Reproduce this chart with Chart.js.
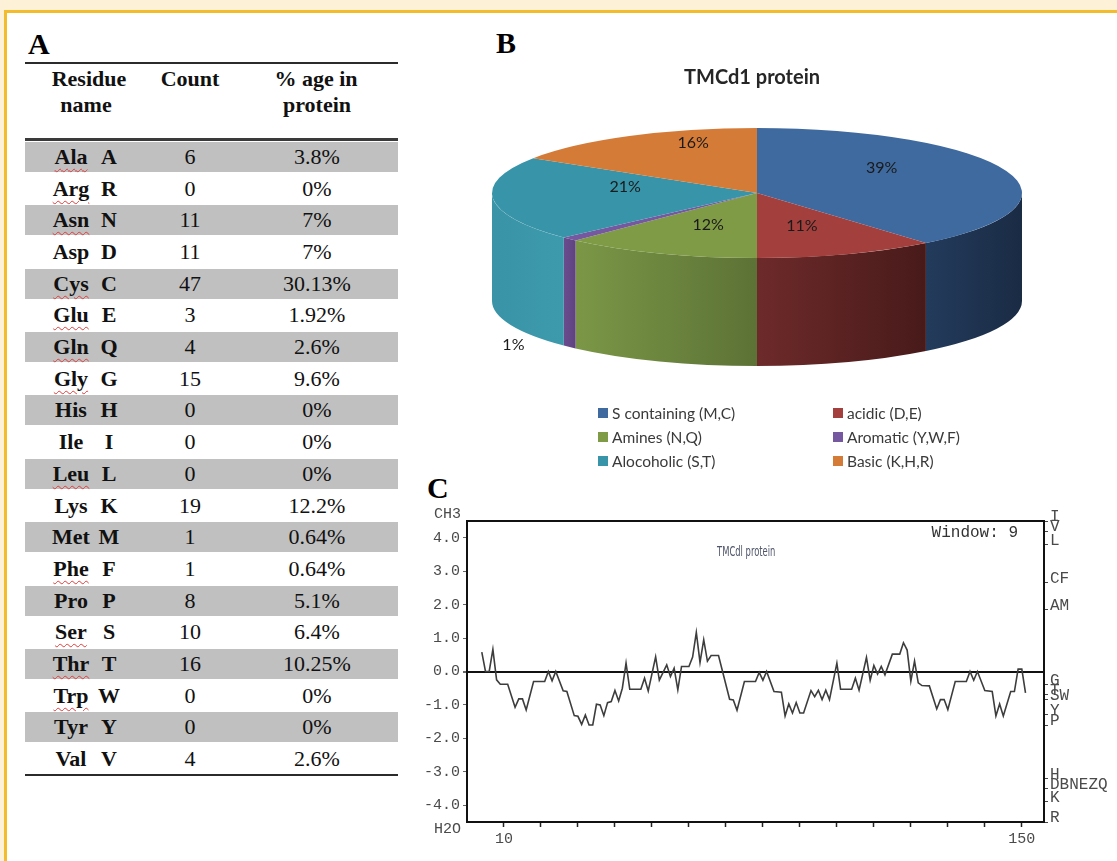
<!DOCTYPE html>
<html><head><meta charset="utf-8">
<script src="https://cdn.jsdelivr.net/npm/chart.js@4.4.1/dist/chart.umd.min.js"></script>
<style>
html,body{margin:0;padding:0;}
body{width:1117px;height:861px;position:relative;background:#fff;overflow:hidden;font-family:"Liberation Serif",serif;}
.band{position:absolute;background:#fdf1d8;}
.yl{position:absolute;background:#f2bc2c;}
.plabel{position:absolute;font:bold 30px "Liberation Serif",serif;color:#000;line-height:30px;}
.cell{position:absolute;text-align:center;font-size:22px;color:#111;white-space:nowrap;}
.hdr{font-weight:bold;}
.nm{font-weight:bold;}
.sq{text-decoration:underline wavy #e23b3b 1px;text-underline-offset:4px;}
.hl{position:absolute;background:#2b2b2b;}
.grow{position:absolute;background:#c0c0c0;}
canvas{position:absolute;}
</style>
</head><body>
<div class="band" style="left:0;top:0;width:1117px;height:10px"></div>
<div class="band" style="left:0;top:0;width:4px;height:861px"></div>
<div class="yl" style="left:4px;top:10px;width:1113px;height:3px"></div>
<div class="yl" style="left:4px;top:10px;width:3px;height:851px"></div>

<div class="plabel" style="left:28px;top:29px">A</div>
<div class="plabel" style="left:496px;top:28px">B</div>
<div class="plabel" style="left:427px;top:473px">C</div>
<div id="tbl"></div>

<canvas id="pie" width="620" height="415" style="left:442px;top:60px"></canvas>
<canvas id="hyd" width="702" height="366" style="left:415px;top:495px"></canvas>

<script>
// ---------- Panel A data ----------
const residueNames = ['Ala','Arg','Asn','Asp','Cys','Glu','Gln','Gly','His','Ile','Leu','Lys','Met','Phe','Pro','Ser','Thr','Trp','Tyr','Val'];
const residueCodes = ['A','R','N','D','C','E','Q','G','H','I','L','K','M','F','P','S','T','W','Y','V'];
const residueCounts = [6,0,11,11,47,3,4,15,0,0,0,19,1,1,8,10,16,0,0,4];
const residuePercent = ['3.8%','0%','7%','7%','30.13%','1.92%','2.6%','9.6%','0%','0%','0%','12.2%','0.64%','0.64%','5.1%','6.4%','10.25%','0%','0%','2.6%'];

// ---------- Panel B data ----------
const pieTitle = 'TMCd1 protein';
const groupLabels = ['S containing (M,C)','acidic (D,E)','Amines (N,Q)','Aromatic (Y,W,F)','Alocoholic (S,T)','Basic (K,H,R)'];
const groupPercent = [39,11,12,1,21,16];

// ---------- Panel C data ----------
const residuePos = [4,5,6,7,8,9,11,13,14,15,16,18,21,22,23,24,26,27,29,30,31,32,33,34,35,36,37,38,39,40,41,42,43,44,47,48,49,51,52,54,55,56,57,58,60,61,62,63,64,65,66,68,71,72,73,75,78,79,80,81,83,85,86,87,88,89,90,91,93,94,95,96,97,98,100,101,104,105,106,108,109,110,111,112,113,115,117,118,119,120,121,122,123,125,127,128,129,130,132,135,136,137,138,140,142,143,144,145,147,148,149,150,151];
const hydropathy = [0.58,0.0,0.0,0.66,-0.25,-0.38,-0.38,-1.07,-0.82,-0.82,-1.15,-0.3,-0.3,0.0,-0.28,0.0,-0.58,-0.6,-1.32,-1.34,-1.58,-1.3,-1.6,-1.6,-0.98,-1.0,-1.32,-0.93,-0.9,-0.57,-0.88,-0.5,0.25,-0.53,-0.53,-0.2,-0.58,0.44,-0.26,0.2,-0.15,0.1,-0.55,0.15,0.15,0.43,1.17,0.27,0.95,0.31,0.48,0.48,-0.83,-0.85,-1.16,-0.3,-0.3,-0.03,-0.26,0.0,-0.6,-0.62,-1.33,-0.97,-1.24,-0.93,-1.24,-1.24,-0.57,-0.75,-0.56,-0.84,-0.56,-0.84,0.25,-0.53,-0.53,-0.2,-0.56,0.42,-0.26,0.18,-0.08,0.15,-0.1,0.52,0.52,0.86,0.64,-0.29,0.31,-0.34,-0.42,-0.43,-1.12,-0.84,-0.84,-1.14,-0.3,-0.3,0.0,-0.26,0.0,-0.57,-0.6,-1.33,-0.97,-1.33,-0.6,-0.6,0.07,0.07,-0.64];
const xTickValues = [10,20,30,40,50,60,70,80,90,100,110,120,130,140,150];
const xTickShown = [10,150];
const leftTickValues = [4,3,2,1,0,-1,-2,-3,-4];
const rightTickValues = [4.5,4.2,3.8,2.65,1.85,-0.4,-0.7,-0.85,-1.3,-1.6,-3.2,-3.5,-3.9,-4.5];
const rightTickLabels = ['I','V','L','CF','AM','G','T','SW','Y','P','H','DBNEZQ','K','R'];
const hydTitle = 'TMCdl protein';
const windowText = 'Window: 9';

// ---------- Panel A: table ----------
(function(){
  const t = document.getElementById('tbl');
  const L = 25, W = 373;
  const squiggle = new Set(['Ala','Arg','Asn','Cys','Glu','Gln','Gly','Leu','Phe','Ser','Thr','Trp']);
  let html = '';
  html += `<div class="hl" style="left:${L}px;top:62px;width:${W}px;height:2px"></div>`;
  const hcell = (txt, cx, cy) => `<div class="cell hdr" style="left:${cx-80}px;width:160px;top:${cy-13}px;line-height:26px">${txt}</div>`;
  html += hcell('Residue', 89, 79) + hcell('name', 86, 105);
  html += hcell('Count', 190, 79);
  html += hcell('% age in', 316, 79) + hcell('protein', 317, 105);
  html += `<div class="hl" style="left:${L}px;top:138px;width:${W}px;height:3px;background:#3a3a3a"></div>`;
  const rowH = 31.7, top0 = 141;
  residueNames.forEach((n, i) => {
    const top = top0 + i * rowH;
    if (i % 2 === 0) html += `<div class="grow" style="left:${L}px;top:${top+0.8}px;width:${W}px;height:${rowH-1.6}px"></div>`;
    const cy = top + rowH / 2;
    const cls = squiggle.has(n) ? 'nm sq' : 'nm';
    html += `<div class="cell" style="left:${71-40}px;width:80px;top:${cy-13}px;line-height:26px"><span class="${cls}">${n}</span></div>`;
    html += `<div class="cell nm" style="left:${109-20}px;width:40px;top:${cy-13}px;line-height:26px">${residueCodes[i]}</div>`;
    html += `<div class="cell" style="left:${190-40}px;width:80px;top:${cy-13}px;line-height:26px">${residueCounts[i]}</div>`;
    html += `<div class="cell" style="left:${317-60}px;width:120px;top:${cy-13}px;line-height:26px">${residuePercent[i]}</div>`;
  });
  html += `<div class="hl" style="left:${L}px;top:${top0 + 20*rowH - 1}px;width:${W}px;height:2px"></div>`;
  t.innerHTML = html;
})();

// ---------- Panel B: 3D pie ----------
const topColors = ['#3f6a9f','#a3403e','#7f9b46','#7658a0','#3894a8','#d57b38'];
const sideLeft  = ['#233b5c','#6e2a2a','#7b9746','#6a4c8e','#3a93a6','#b8652a'];
const sideRight = ['#1a2b44','#481a1a','#5c7236','#5e4380','#3d9aad','#a65a25'];
const G = {cx:315, cy:133, a:265, b:65, d:108};

function frontSegs(s, e){
  const TAU = Math.PI*2;
  const k = Math.floor(s/TAU); s -= k*TAU; e -= k*TAU;
  const out = [];
  [[0,Math.PI],[TAU,TAU+Math.PI]].forEach(([lo,hi]) => {
    const a = Math.max(s,lo), b = Math.min(e,hi);
    if (b > a) out.push([a,b]);
  });
  return out;
}

const pie3d = {
  id: 'pie3d',
  beforeDatasetsDraw(chart){
    const ctx = chart.ctx, meta = chart.getDatasetMeta(0);
    meta.data.forEach((arc, i) => {
      frontSegs(arc.startAngle, arc.endAngle).forEach(([t1,t2]) => {
        const x1 = G.cx + G.a*Math.cos(t1), x2 = G.cx + G.a*Math.cos(t2);
        const gr = ctx.createLinearGradient(Math.min(x1,x2),0,Math.max(x1,x2),0);
        gr.addColorStop(0, sideLeft[i]); gr.addColorStop(1, sideRight[i]);
        ctx.beginPath();
        ctx.ellipse(G.cx, G.cy, G.a, G.b, 0, t1, t2, false);
        ctx.lineTo(x2, G.cy + G.b*Math.sin(t2) + G.d);
        ctx.ellipse(G.cx, G.cy + G.d, G.a, G.b, 0, t2, t1, true);
        ctx.closePath();
        ctx.fillStyle = gr; ctx.fill();
      });
    });
    const a0 = meta.data[0];
    ctx.save();
    ctx.translate(G.cx, G.cy);
    ctx.scale(G.a/a0.outerRadius, G.b/a0.outerRadius);
    ctx.translate(-a0.x, -a0.y);
  },
  afterDatasetsDraw(chart){
    const ctx = chart.ctx, meta = chart.getDatasetMeta(0);
    ctx.restore();
    ctx.save();
    ctx.font = '16px Lato, "Open Sans", sans-serif';
    ctx.textAlign = 'center'; ctx.textBaseline = 'middle';
    ctx.fillStyle = '#1a1a1a';
    meta.data.forEach((arc, i) => {
      const m = (arc.startAngle + arc.endAngle)/2;
      let x, y;
      if (groupPercent[i] < 3) {
        x = G.cx + G.a*Math.cos(m)*1.3;
        y = G.cy + G.b*Math.sin(m) + G.d - 2;
      } else {
        x = G.cx + G.a*0.5*Math.cos(m);
        y = G.cy + G.b*0.7*Math.sin(m) - 10;
      }
      ctx.fillText(groupPercent[i] + '%', x, y);
    });
    // legend (two columns)
    ctx.textAlign = 'left';
    ctx.font = '15.5px Lato, "Open Sans", sans-serif';
    const colBox = [156, 391], rowY = [353, 377, 401];
    groupLabels.forEach((lab, i) => {
      const c = i % 2, r = Math.floor(i/2);
      ctx.fillStyle = topColors[i];
      ctx.fillRect(colBox[c], rowY[r]-5, 10, 10);
      ctx.fillStyle = '#3a3a3a';
      ctx.fillText(lab, colBox[c] + 14, rowY[r] + 1);
    });
    ctx.restore();
  }
};

new Chart(document.getElementById('pie'), {
  type: 'pie',
  data: { labels: groupLabels, datasets: [{ data: groupPercent, backgroundColor: topColors, borderWidth: 0, clip: false }] },
  options: {
    responsive: false, animation: false, events: [],
    layout: { padding: 0 },
    plugins: {
      legend: { display: false }, tooltip: { enabled: false },
      title: { display: true, text: pieTitle, color: '#262626', font: { family: 'Lato', weight: 'bold', size: 20 }, padding: { top: 6, bottom: 6 } }
    }
  },
  plugins: [pie3d]
});

// ---------- Panel C: hydropathy plot ----------
const MONO = '"Liberation Mono", "DejaVu Sans Mono", monospace';
const extras = {
  id: 'extras',
  afterDraw(chart){
    const ctx = chart.ctx, ca = chart.chartArea, ys = chart.scales.y;
    ctx.save();
    ctx.strokeStyle = '#111'; ctx.lineWidth = 2;
    ctx.strokeRect(ca.left, ca.top, ca.right - ca.left, ca.bottom - ca.top);
    ctx.fillStyle = '#4a4a4a';
    ctx.font = '15px ' + MONO;
    ctx.textAlign = 'right'; ctx.textBaseline = 'middle';
    ctx.fillText('CH3', ca.left - 6, ys.getPixelForValue(4.5) - 7);
    ctx.fillText('H2O', ca.left - 6, ys.getPixelForValue(-4.5) + 7);
    ctx.fillStyle = '#333';
    ctx.font = '16px ' + MONO;
    ctx.fillText(windowText, ca.right - 26, ca.top + 12);
    ctx.fillStyle = '#50566a';
    ctx.font = '14px "DejaVu Sans", sans-serif';
    ctx.textAlign = 'left';
    ctx.translate(ca.left + 250, ca.top + 31);
    ctx.scale(0.6, 1);
    ctx.fillText(hydTitle, 0, 0);
    ctx.restore();
  }
};

new Chart(document.getElementById('hyd'), {
  type: 'scatter',
  data: { datasets: [{ data: residuePos.map((r, i) => ({ x: r, y: hydropathy[i] })), showLine: true, borderColor: '#3d3d3d', borderWidth: 1.6, pointRadius: 0, tension: 0, clip: false }] },
  options: {
    responsive: false, animation: false, events: [],
    layout: { padding: { top: 26, left: 0, right: 0, bottom: 0 } },
    plugins: { legend: { display: false }, tooltip: { enabled: false } },
    scales: {
      x: {
        type: 'linear', min: 0, max: 156,
        afterBuildTicks: ax => { ax.ticks = xTickValues.map(v => ({ value: v })); },
        afterFit: ax => { ax.height = 39; },
        ticks: { autoSkip: false, maxRotation: 0, padding: 3, color: '#4a4a4a', font: { family: MONO, size: 15 },
                 callback: v => xTickShown.includes(v) ? String(v) : '' },
        grid: { drawOnChartArea: false, tickLength: 5, tickColor: '#222', tickWidth: 1.5 },
        border: { display: true, color: '#111', width: 2 }
      },
      y: {
        position: 'left', min: -4.5, max: 4.5,
        afterBuildTicks: ax => { ax.ticks = leftTickValues.map(v => ({ value: v })); },
        afterFit: ax => { ax.width = 52; },
        ticks: { autoSkip: false, padding: 3, color: '#4a4a4a', font: { family: MONO, size: 15 }, callback: v => v.toFixed(1) },
        grid: { drawOnChartArea: true, tickLength: 4, tickColor: '#666',
                color: c => (c.tick && c.tick.value === 0) ? '#111' : 'rgba(0,0,0,0)',
                lineWidth: c => (c.tick && c.tick.value === 0) ? 2 : 1 },
        border: { display: true, color: '#111', width: 2 }
      },
      y2: {
        position: 'right', min: -4.5, max: 4.5,
        afterBuildTicks: ax => { ax.ticks = rightTickValues.map(v => ({ value: v })); },
        afterFit: ax => { ax.width = 73; },
        ticks: { autoSkip: false, padding: 2, labelOffset: -4, color: '#4a4a4a', font: { family: MONO, size: 16 },
                 callback: (v, i) => rightTickLabels[i] },
        grid: { drawOnChartArea: false, tickLength: 4, tickColor: '#444' },
        border: { display: true, color: '#111', width: 2 }
      }
    }
  },
  plugins: [extras]
});
</script>
</body></html>
